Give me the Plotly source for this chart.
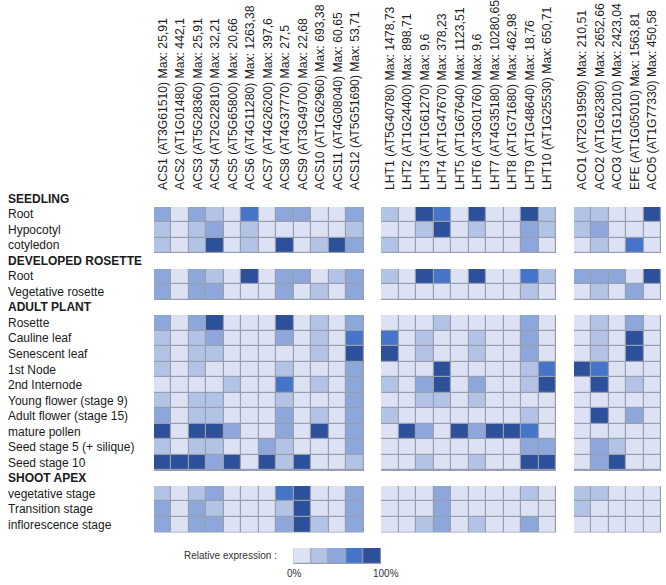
import plotly.graph_objects as go

# ---------------- data ----------------
section_names = ["SEEDLING", "DEVELOPED ROSETTE", "ADULT PLANT", "SHOOT APEX"]
section_tissues = [
    ["Root", "Hypocotyl", "cotyledon"],
    ["Root", "Vegetative rosette"],
    ["Rosette", "Cauline leaf", "Senescent leaf", "1st Node", "2nd Internode",
     "Young flower (stage 9)", "Adult flower (stage 15)", "mature pollen",
     "Seed stage 5 (+ silique)", "Seed stage 10"],
    ["vegetative stage", "Transition stage", "inflorescence stage"],
]

acs_genes = [
    "ACS1 (AT3G61510) Max: 25,91", "ACS2 (AT1G01480) Max: 442,1",
    "ACS3 (AT5G28360) Max: 25,91", "ACS4 (AT2G22810) Max: 32,21",
    "ACS5 (AT5G65800) Max: 20,66", "ACS6 (AT4G11280) Max: 1263,38",
    "ACS7 (AT4G26200) Max: 397,6", "ACS8 (AT4G37770) Max: 27,5",
    "ACS9 (AT3G49700) Max: 22,68", "ACS10 (AT1G62960) Max: 693,38",
    "ACS11 (AT4G08040) Max: 60,65", "ACS12 (AT5G51690) Max: 53,71",
]
lht_genes = [
    "LHT1 (AT5G40780) Max: 1478,73", "LHT2 (AT1G24400) Max: 898,71",
    "LHT3 (AT1G61270) Max: 9,6", "LHT4 (AT1G47670) Max: 378,23",
    "LHT5 (AT1G67640) Max: 1123,51", "LHT6 (AT3G01760) Max: 9,6",
    "LHT7 (AT4G35180) Max: 10280,65", "LHT8 (AT1G71680) Max: 462,98",
    "LHT9 (AT1G48640) Max: 18,76", "LHT10 (AT1G25530) Max: 650,71",
]
aco_genes = [
    "ACO1 (AT2G19590) Max: 210,51", "ACO2 (AT1G62380) Max: 2652,66",
    "ACO3 (AT1G12010) Max: 2423,04", "EFE (AT1G05010) Max: 1563,81",
    "ACO5 (AT1G77330) Max: 450,58",
]

# expression level class (1 = 0% ... 5 = 100%), one row per tissue
acs_levels = [
    [3, 1, 3, 2, 1, 4, 1, 3, 3, 1, 1, 3],
    [2, 1, 2, 3, 1, 2, 1, 1, 1, 1, 1, 2],
    [2, 1, 2, 5, 1, 2, 1, 5, 1, 2, 5, 3],
    [3, 1, 3, 2, 1, 5, 1, 3, 3, 1, 2, 3],
    [3, 1, 3, 3, 1, 1, 1, 3, 1, 2, 1, 3],
    [3, 1, 3, 5, 1, 1, 1, 5, 1, 2, 1, 3],
    [2, 1, 2, 3, 1, 1, 1, 3, 1, 2, 1, 4],
    [2, 1, 2, 2, 1, 1, 1, 1, 1, 2, 1, 5],
    [2, 1, 2, 1, 1, 1, 1, 2, 1, 1, 1, 3],
    [1, 1, 1, 1, 2, 1, 1, 4, 1, 2, 1, 3],
    [2, 1, 2, 2, 1, 1, 1, 2, 1, 1, 1, 3],
    [3, 1, 2, 2, 1, 1, 1, 3, 1, 2, 1, 3],
    [5, 1, 5, 5, 3, 1, 1, 3, 1, 5, 1, 3],
    [2, 1, 2, 2, 1, 1, 3, 2, 1, 1, 1, 3],
    [5, 5, 5, 3, 5, 1, 5, 2, 5, 1, 1, 2],
    [2, 1, 2, 3, 1, 1, 1, 4, 5, 1, 1, 3],
    [3, 1, 3, 2, 1, 1, 1, 2, 5, 1, 1, 3],
    [3, 1, 3, 3, 1, 1, 1, 3, 5, 2, 1, 3],
]
lht_levels = [
    [2, 1, 5, 4, 1, 5, 1, 1, 5, 2],
    [1, 1, 2, 5, 1, 2, 1, 1, 3, 2],
    [2, 1, 1, 1, 1, 1, 1, 1, 3, 1],
    [2, 1, 5, 4, 1, 5, 1, 1, 4, 2],
    [1, 1, 1, 1, 1, 1, 1, 1, 2, 1],
    [1, 1, 1, 2, 1, 1, 1, 1, 3, 1],
    [4, 1, 2, 1, 1, 2, 1, 1, 3, 1],
    [5, 1, 2, 1, 1, 2, 1, 1, 3, 1],
    [1, 1, 1, 5, 1, 1, 1, 1, 2, 4],
    [2, 1, 3, 5, 1, 3, 1, 1, 2, 5],
    [1, 1, 2, 2, 1, 2, 1, 1, 1, 1],
    [2, 1, 1, 1, 1, 1, 1, 1, 2, 1],
    [1, 5, 3, 1, 5, 3, 5, 5, 4, 1],
    [1, 1, 1, 1, 1, 1, 1, 1, 3, 3],
    [1, 1, 2, 1, 1, 2, 1, 1, 5, 5],
    [1, 1, 1, 3, 1, 1, 1, 1, 2, 1],
    [1, 1, 1, 3, 1, 1, 1, 1, 1, 1],
    [1, 1, 2, 3, 1, 2, 1, 1, 3, 1],
]
aco_levels = [
    [2, 2, 1, 1, 5],
    [2, 3, 1, 1, 1],
    [1, 2, 1, 4, 1],
    [3, 3, 3, 1, 5],
    [1, 2, 1, 3, 1],
    [1, 2, 1, 3, 1],
    [1, 2, 1, 5, 1],
    [1, 2, 1, 5, 1],
    [5, 4, 1, 1, 1],
    [1, 5, 1, 2, 1],
    [1, 1, 1, 1, 1],
    [1, 5, 1, 3, 1],
    [1, 1, 1, 1, 1],
    [1, 3, 2, 1, 1],
    [1, 3, 5, 1, 1],
    [2, 2, 1, 1, 1],
    [2, 1, 1, 1, 1],
    [1, 1, 1, 1, 1],
]
legend_levels = [1, 2, 3, 4, 5]
legend_title = "Relative expression :"
legend_low, legend_high = "0%", "100%"

level_colors = ["#dce2f3", "#b3c3e6", "#8ea7db", "#4674c9", "#2c5099"]
border_color = "#979eb0"
FONT = "Liberation Sans, Arial, sans-serif"

# ---------------- assemble grid ----------------
groups = [(acs_genes, acs_levels), (lht_genes, lht_levels), (aco_genes, aco_levels)]
col_labels = []
for gi, (genes, _) in enumerate(groups):
    if gi > 0:
        col_labels.append("")
    col_labels.extend(genes)
ncols = len(col_labels)

row_labels = []
row_is_header = []
z = []
tissue_idx = 0
for sname, tissues in zip(section_names, section_tissues):
    row_labels.append(sname)
    row_is_header.append(True)
    z.append([None] * ncols)
    for t in tissues:
        row_labels.append(t)
        row_is_header.append(False)
        row = []
        for gi, (_, lv) in enumerate(groups):
            if gi > 0:
                row.append(None)
            row.extend(lv[tissue_idx])
        z.append(row)
        tissue_idx += 1
nrows = len(row_labels)
xs = list(range(ncols))
ys = list(range(nrows))
z_under = [[(1 if v is not None else None) for v in r] for r in z]

n = len(level_colors)
cscale = []
for i, c in enumerate(level_colors):
    cscale.append([i / n, c])
    cscale.append([(i + 1) / n, c])

W, H = 666, 585
ml, mr, mt, mb = 154, 5, 191, 5
ph = H - mt - mb
pw = W - ml - mr
grid_bottom_px = 532.5
dom_bottom = (H - mb - grid_bottom_px) / ph


def px_x(p):
    return (p - ml) / pw


def px_y(p):
    return (H - mb - p) / ph


fig = go.Figure()
fig.add_trace(go.Heatmap(x=xs, y=ys, z=z_under, colorscale=[[0, border_color], [1, border_color]],
                         showscale=False, hoverinfo="skip"))
fig.add_trace(go.Heatmap(x=xs, y=ys, z=z, colorscale=cscale, zmin=0.5, zmax=5.5,
                         xgap=1.2, ygap=1.2, showscale=False))

# legend bar
fig.add_trace(go.Heatmap(x=list(range(len(legend_levels))), y=[0], z=[[1] * len(legend_levels)],
                         colorscale=[[0, border_color], [1, border_color]], showscale=False,
                         xaxis="x2", yaxis="y2", hoverinfo="skip"))
fig.add_trace(go.Heatmap(x=list(range(len(legend_levels))), y=[0], z=[legend_levels],
                         colorscale=cscale, zmin=0.5, zmax=5.5, xgap=1.2, ygap=1.2,
                         showscale=False, xaxis="x2", yaxis="y2"))

annotations = []
for i, (lab, hdr) in enumerate(zip(row_labels, row_is_header)):
    annotations.append(dict(
        x=px_x(6), xref="paper", y=i, yref="y", xanchor="left", yanchor="middle",
        text=f"<b>{lab}</b>" if hdr else lab, showarrow=False,
        font=dict(family=FONT, size=12, color="#1a1a1a")))
annotations.append(dict(x=px_x(279), xref="paper", y=px_y(555), yref="paper",
                        xanchor="right", yanchor="middle", text=legend_title, showarrow=False,
                        font=dict(family=FONT, size=10, color="#333")))
annotations.append(dict(x=px_x(294.5), xref="paper", y=px_y(573), yref="paper",
                        xanchor="center", yanchor="middle", text=legend_low, showarrow=False,
                        font=dict(family=FONT, size=10, color="#333")))
annotations.append(dict(x=px_x(385.5), xref="paper", y=px_y(573), yref="paper",
                        xanchor="center", yanchor="middle", text=legend_high, showarrow=False,
                        font=dict(family=FONT, size=10, color="#333")))

fig.update_layout(
    width=W, height=H,
    margin=dict(l=ml, r=mr, t=mt, b=mb),
    paper_bgcolor="white", plot_bgcolor="white",
    xaxis=dict(range=[-0.5, ncols - 0.5], side="top", tickmode="array", tickvals=xs,
               ticktext=col_labels, tickangle=-90, showgrid=False, zeroline=False,
               showline=False, ticks="", tickfont=dict(family=FONT, size=12.2, color="#1a1a1a"),
               fixedrange=True, anchor="y", automargin=False),
    yaxis=dict(range=[nrows - 0.5, -0.5], domain=[dom_bottom, 1], showticklabels=False,
               showgrid=False, zeroline=False, showline=False, ticks="", fixedrange=True),
    xaxis2=dict(domain=[px_x(293.3), px_x(381.0)], range=[-0.5, 4.5], anchor="y2", visible=False),
    yaxis2=dict(domain=[px_y(564), px_y(548)], range=[-0.5, 0.5], anchor="x2", visible=False),
    annotations=annotations,
    showlegend=False,
)

fig.write_html("out.html", config={"displayModeBar": False},
               post_script="document.body.style.margin='0';document.body.style.padding='0';")
